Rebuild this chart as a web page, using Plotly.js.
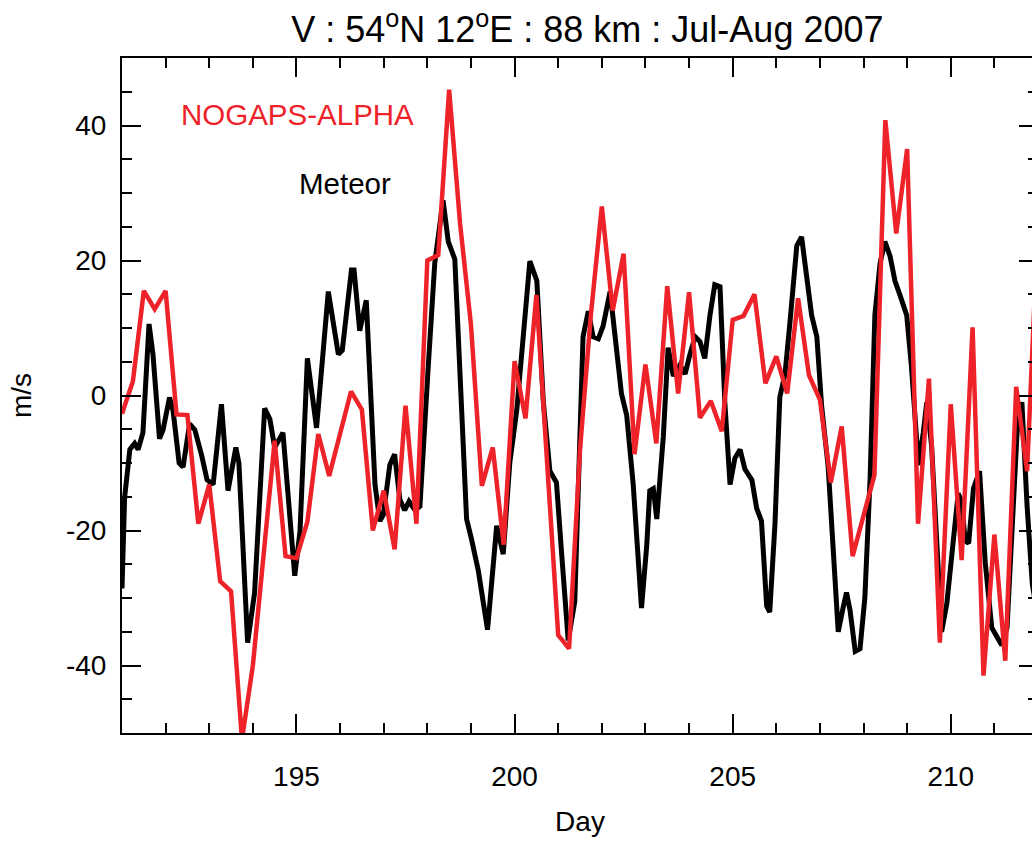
<!DOCTYPE html>
<html>
<head>
<meta charset="utf-8">
<script src="https://cdn.plot.ly/plotly-3.0.1.min.js"></script>
<style>
html, body { margin: 0; padding: 0; overflow: hidden; background: #fff; }
#chart { width: 1040px; height: 842px; }
</style>
</head>
<body>
<div id="chart"></div>
<script>
// ---- Data ----
const meteorDay = [
  191.00, 191.06, 191.18, 191.29, 191.37, 191.48, 191.62, 191.71, 191.86, 191.94,
  192.09, 192.17, 192.31, 192.40, 192.55, 192.67, 192.82, 192.95, 193.09, 193.28,
  193.43, 193.61, 193.68, 193.88, 194.04, 194.27, 194.39, 194.50, 194.69, 194.96,
  195.08, 195.25, 195.46, 195.73, 195.96, 196.05, 196.26, 196.32, 196.45, 196.60,
  196.80, 196.91, 196.99, 197.14, 197.25, 197.37, 197.48, 197.58, 197.72, 197.83,
  198.02, 198.17, 198.36, 198.48, 198.63, 198.90, 199.01, 199.17, 199.38, 199.59,
  199.74, 199.89, 200.05, 200.20, 200.35, 200.51, 200.66, 200.81, 200.96, 201.08,
  201.23, 201.38, 201.57, 201.69, 201.80, 201.92, 202.03, 202.19, 202.34, 202.45,
  202.57, 202.72, 202.91, 203.03, 203.10, 203.18, 203.26, 203.41, 203.52, 203.64,
  203.79, 203.91, 204.02, 204.14, 204.25, 204.36, 204.48, 204.59, 204.71, 204.82,
  204.94, 205.05, 205.17, 205.28, 205.44, 205.55, 205.66, 205.78, 205.85, 205.97,
  206.08, 206.20, 206.31, 206.47, 206.58, 206.70, 206.81, 206.93, 207.04, 207.19,
  207.31, 207.42, 207.54, 207.61, 207.69, 207.81, 207.92, 208.03, 208.15, 208.26,
  208.38, 208.49, 208.61, 208.72, 208.84, 208.99, 209.10, 209.26, 209.37, 209.45,
  209.56, 209.68, 209.79, 209.91, 210.06, 210.17, 210.25, 210.33, 210.41, 210.52,
  210.66, 210.79, 210.94, 211.06, 211.17, 211.29, 211.40, 211.52, 211.63, 211.75,
  211.87, 211.95
];
const meteorV = [
  -28.6, -15.1, -8.0, -7.1, -8.0, -5.5, 10.6, 6.1, -6.4, -5.1,
  -0.3, -2.2, -10.0, -10.6, -4.2, -5.1, -8.7, -12.5, -13.2, -1.3,
  -14.1, -7.7, -10.0, -36.6, -29.2, -1.9, -3.5, -7.7, -5.5, -26.7,
  -20.2, 5.5, -4.8, 15.4, 6.1, 6.7, 18.6, 18.6, 9.6, 14.1,
  -13.2, -18.6, -17.7, -10.3, -8.7, -15.4, -17.0, -15.7, -17.0, -16.4,
  4.2, 19.6, 28.9, 22.8, 20.2, -18.3, -21.2, -26.0, -34.7, -19.3,
  -23.5, -10.0, -2.2, 9.3, 19.9, 17.0, -1.0, -11.2, -12.9, -23.5,
  -36.3, -30.5, 8.7, 12.5, 8.7, 8.4, 10.3, 15.4, 6.1, 0.3,
  -2.9, -13.2, -31.5, -22.2, -14.1, -13.8, -18.3, -6.1, 7.1, 2.9,
  4.5, 3.2, 6.1, 8.7, 8.0, 5.5, 11.9, 16.4, 16.1, -1.0,
  -13.2, -9.3, -8.0, -10.9, -12.5, -16.7, -18.6, -31.2, -32.1, -19.0,
  -0.3, 3.2, 10.6, 22.2, 23.5, 17.0, 11.9, 8.7, -1.6, -10.6,
  -22.8, -35.0, -31.2, -29.2, -31.8, -37.9, -37.5, -30.0, -12.5, 11.9,
  19.6, 22.8, 20.6, 17.0, 14.8, 11.9, 4.2, -10.3, -5.5, -1.0,
  -7.4, -20.9, -35.0, -30.8, -22.2, -14.5, -15.7, -21.5, -21.9, -13.8,
  -11.2, -24.7, -34.4, -35.7, -37.0, -34.4, -20.2, -5.5, -1.0, -16.4,
  -28.0, -31.0
];

// NOGAPS-ALPHA: 6-hourly values starting at day 191.00
const nogapsStart = 191;
const nogapsStep = 0.25;
const nogapsV = [
  -2.7, 2.1, 15.5, 12.8, 15.5, -2.8, -2.9, -19.0, -13.2, -27.5,
  -29.0, -51.0, -40.0, -23.5, -6.7, -23.8, -24.1, -18.7, -5.7, -11.9,
  -5.7, 0.6, -2.1, -20.0, -14.1, -22.8, -1.5, -19.0, 20.0, 20.8,
  45.3, 25.5, 10.5, -13.4, -7.7, -22.1, 5.1, -3.4, 14.9, -10.0,
  -35.5, -37.5, -8.0, 12.0, 28.0, 12.6, 21.0, -8.7, 4.6, -7.1,
  16.2, 0.3, 15.3, -3.3, -0.8, -5.3, 11.2, 11.8, 15.0, 1.8,
  5.8, 0.3, 14.4, 3.0, -0.6, -12.9, -4.6, -23.8, -17.5, -11.8,
  40.8, 24.0, 36.5, -19.0, 2.5, -36.6, -1.3, -24.4, 10.1, -41.5,
  -20.6, -39.3, 1.3, -11.2, 26.0
];

const xTickVals = [195, 200, 205, 210];
const xTickText = ['195', '200', '205', '210'];
const yTickVals = [-40, -20, 0, 20, 40];
const yTickText = ['-40', '-20', '0', '20', '40'];
const seriesNames = ['Meteor', 'NOGAPS-ALPHA'];
const chartTitle = 'V : 54<sup>o</sup>N 12<sup>o</sup>E : 88 km : Jul-Aug 2007';

// ---- Styling ----
const FONT = '"Liberation Sans", Arial, Helvetica, sans-serif';
const RED = '#ee2229';

const traces = [
  {
    x: meteorDay, y: meteorV, name: seriesNames[0],
    type: 'scatter', mode: 'lines',
    line: { color: '#000000', width: 5 }
  },
  {
    x0: nogapsStart, dx: nogapsStep, y: nogapsV, name: seriesNames[1],
    type: 'scatter', mode: 'lines',
    line: { color: RED, width: 4.5 }
  }
];

const axisCommon = {
  showline: true, linecolor: '#000', linewidth: 2, mirror: 'ticks',
  ticks: 'inside', ticklen: 19, tickwidth: 2, tickcolor: '#000',
  showgrid: false, zeroline: false,
  tickfont: { family: FONT, size: 28, color: '#000' }
};

const layout = {
  width: 1040, height: 842,
  margin: { l: 122, r: 2, t: 58, b: 109 },
  paper_bgcolor: '#fff', plot_bgcolor: '#fff',
  showlegend: false,
  font: { family: FONT, color: '#000' },
  title: {
    text: chartTitle,
    font: { family: FONT, size: 36, color: '#000' },
    xref: 'paper', x: 0.508, xanchor: 'center',
    yref: 'container', y: 0.965, yanchor: 'middle'
  },
  xaxis: Object.assign({}, axisCommon, {
    range: [191, 212],
    tickvals: xTickVals, ticktext: xTickText,
    ticklabelstandoff: 17,
    minor: { dtick: 1, tick0: 191, ticks: 'inside', ticklen: 10, tickwidth: 2, tickcolor: '#000' },
    title: { text: 'Day', font: { family: FONT, size: 28, color: '#000' }, standoff: 21 }
  }),
  yaxis: Object.assign({}, axisCommon, {
    range: [-50, 50],
    tickvals: yTickVals, ticktext: yTickText,
    ticklabelstandoff: 8,
    minor: { dtick: 5, tick0: 0, ticks: 'inside', ticklen: 10, tickwidth: 2, tickcolor: '#000' },
    title: { text: 'm/s', font: { family: FONT, size: 28, color: '#000' }, standoff: 26 }
  }),
  annotations: [
    {
      text: seriesNames[1], showarrow: false,
      xref: 'paper', yref: 'paper', x: 0.062, y: 0.9156,
      xanchor: 'left', yanchor: 'middle',
      font: { family: FONT, size: 29.5, color: RED }
    },
    {
      text: seriesNames[0], showarrow: false,
      xref: 'paper', yref: 'paper', x: 0.191, y: 0.8148,
      xanchor: 'left', yanchor: 'middle',
      font: { family: FONT, size: 29.5, color: '#000' }
    }
  ]
};

Plotly.newPlot('chart', traces, layout, { staticPlot: true, displayModeBar: false });
</script>
</body>
</html>
